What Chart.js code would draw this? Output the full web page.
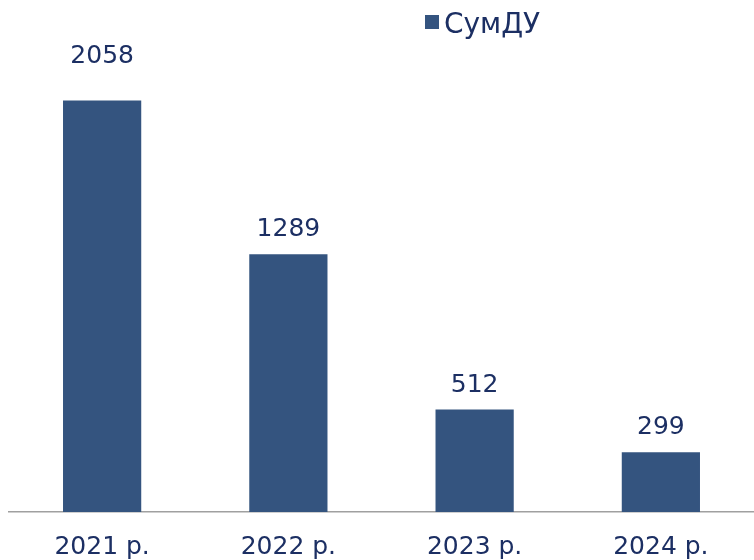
<!DOCTYPE html>
<html>
<head>
<meta charset="utf-8">
<script src="https://cdn.jsdelivr.net/npm/chart.js@4/dist/chart.umd.min.js"></script>
<style>
  html, body { margin: 0; padding: 0; background: #ffffff; }
  #wrap { width: 754px; height: 560px; position: relative; }
</style>
</head>
<body>
<div id="wrap"><canvas id="c" width="754" height="560"></canvas></div>
<script>
// ---- data ----
const categories = ["2021 р.", "2022 р.", "2023 р.", "2024 р."];
const seriesName = "СумДУ";
const seriesValues = [2058, 1289, 512, 299];

// ---- styles ----
const BAR_COLOR = "#34547f";
const TEXT_COLOR = "#1c2f63";
const FONT = "'DejaVu Sans', sans-serif";
const LABEL_EXTRA_LIFT = [19, 0, 0, 0]; // first label sits higher in the reference

const valueLabels = {
  id: "valueLabels",
  afterDatasetsDraw(chart) {
    const ctx = chart.ctx;
    const meta = chart.getDatasetMeta(0);
    ctx.save();
    ctx.fillStyle = TEXT_COLOR;
    ctx.font = "25px " + FONT;
    ctx.textAlign = "center";
    ctx.textBaseline = "alphabetic";
    meta.data.forEach((bar, i) => {
      const v = chart.data.datasets[0].data[i];
      ctx.fillText(String(v), bar.x, bar.y - 18 - LABEL_EXTRA_LIFT[i]);
    });
    ctx.restore();
  }
};

const customLegend = {
  id: "customLegend",
  afterDraw(chart) {
    const ctx = chart.ctx;
    ctx.save();
    ctx.fillStyle = BAR_COLOR;
    ctx.fillRect(425, 15, 14, 14);
    ctx.fillStyle = TEXT_COLOR;
    ctx.font = "28px " + FONT;
    ctx.textAlign = "left";
    ctx.textBaseline = "alphabetic";
    ctx.fillText(chart.data.datasets[0].label, 444, 33);
    ctx.restore();
  }
};

new Chart(document.getElementById("c"), {
  type: "bar",
  data: {
    labels: categories,
    datasets: [{
      label: seriesName,
      data: seriesValues,
      backgroundColor: BAR_COLOR,
      borderWidth: 0,
      categoryPercentage: 1,
      barPercentage: 0.42
    }]
  },
  options: {
    responsive: false,
    animation: false,
    devicePixelRatio: 1,
    layout: { padding: { top: 12, left: 9, right: 0, bottom: 0 } },
    plugins: {
      legend: { display: false },
      tooltip: { enabled: false }
    },
    scales: {
      y: {
        display: false,
        min: 0,
        max: 2500
      },
      x: {
        afterFit(scale) { scale.height = 48; },
        grid: { display: false, drawTicks: false },
        border: { display: true, color: "#a0a0a0", width: 1.5 },
        ticks: {
          color: TEXT_COLOR,
          font: { family: FONT, size: 25 },
          padding: 20,
          maxRotation: 0
        }
      }
    }
  },
  plugins: [valueLabels, customLegend]
});
</script>
</body>
</html>
